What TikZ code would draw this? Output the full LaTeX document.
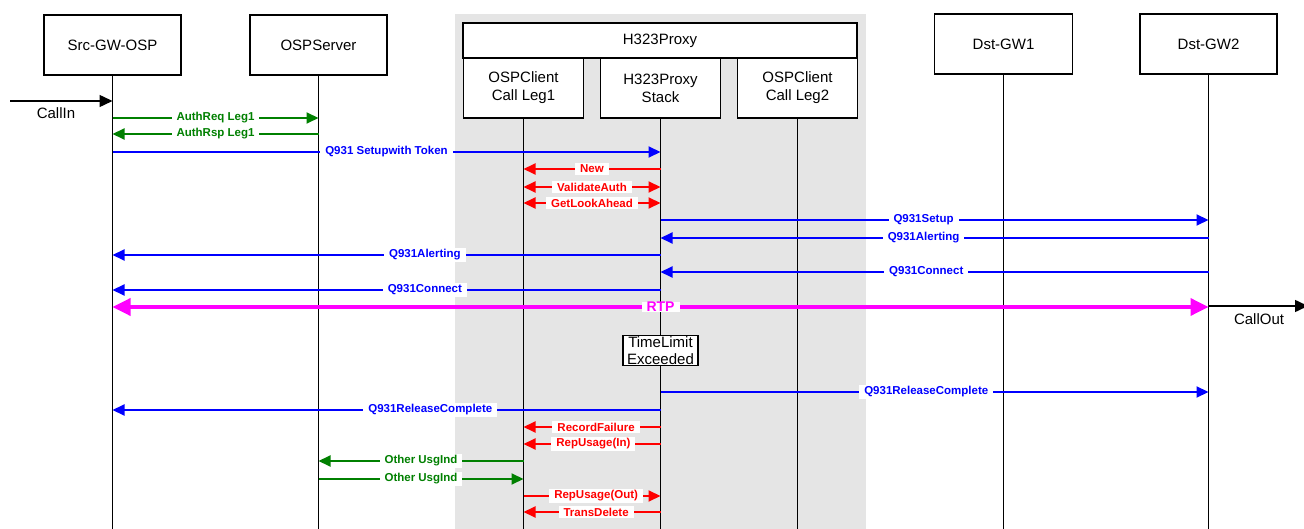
\documentclass[tikz,border=0pt]{standalone}
\usepackage{fontspec}
\setmainfont{Liberation Sans}
\usetikzlibrary{arrows.meta}
\definecolor{mblue}{RGB}{0,0,255}
\definecolor{mgreen}{RGB}{0,128,0}
\definecolor{mred}{RGB}{255,0,0}
\definecolor{mmag}{RGB}{255,0,255}
\definecolor{bggrey}{RGB}{229,229,229}
\begin{document}
\begin{tikzpicture}[x=1pt,y=-1pt,
  box/.style={draw, line width=1.5pt, fill=white, inner sep=0pt, align=center,
              font=\fontsize{15}{18}\selectfont},
  life/.style={line width=1.6pt},
  msg/.style={line width=2pt, -{Triangle[length=12pt,width=11pt]}},
  dmsg/.style={line width=2pt, {Triangle[length=12pt,width=11pt]}-{Triangle[length=12pt,width=11pt]}},
  lbl/.style={fill=white, inner xsep=5pt, inner ysep=1.5pt,
              font=\bfseries\fontsize{11.5}{12}\selectfont},
  plain/.style={font=\fontsize{15}{18}\selectfont, inner sep=1pt},
]
\useasboundingbox (0,0) rectangle (1304,529);
\clip (0,0) rectangle (1304,529);

% grey background of the proxy
\fill[bggrey] (455,14) rectangle (866,529);

% participant boxes
\node[box, minimum width=137pt, minimum height=60pt] (src) at (112.5,45) {Src-GW-OSP};
\node[box, minimum width=137pt, minimum height=60pt] (srv) at (318.5,45) {OSPServer};
\node[box, minimum width=394pt, minimum height=35pt] (prx) at (660,40.5) {H323Proxy};
\node[box, minimum width=120pt, minimum height=60pt] (leg1) at (523.5,88) {OSPClient\\Call Leg1};
\node[box, minimum width=120pt, minimum height=60pt] (stk) at (660.5,88) {H323Proxy\\Stack};
\node[box, minimum width=120pt, minimum height=60pt] (leg2) at (797.5,88) {OSPClient\\Call Leg2};
\node[box, minimum width=138pt, minimum height=60pt] (dst1) at (1003.5,44) {Dst-GW1};
\node[box, minimum width=137pt, minimum height=60pt] (dst2) at (1208.5,44) {Dst-GW2};

% lifelines
\foreach \n in {src,srv,leg1,stk,leg2,dst1,dst2}
  \draw[life] (\n.south) -- (\n.south |- 0,529);

% external call in / out
\coordinate (callin) at (10,101);
\coordinate (callout) at (1308,306);
\draw[line width=1.5pt, -{Triangle[length=13pt,width=12pt]}] (callin) -- (src |- 0,101);
\node[plain] (callinlbl) at (56,113) {CallIn};
\draw[line width=1.5pt, -{Triangle[length=13pt,width=12pt]}] (dst2 |- 0,306) -- (callout);
\node[plain] (calloutlbl) at (1259,319) {CallOut};

% messages
\draw[msg, mgreen] (src |- 0,118) -- (srv |- 0,118) node[lbl, midway] {AuthReq Leg1};
\draw[msg, mgreen] (srv |- 0,134) -- (src |- 0,134) node[lbl, midway] {AuthRsp Leg1};
\draw[msg, mblue] (src |- 0,152) -- (stk |- 0,152) node[lbl, midway] {Q931 Setupwith Token};
\draw[msg, mred] (stk |- 0,169) -- (leg1 |- 0,169) node[lbl, midway] {New};
\draw[dmsg, mred] (leg1 |- 0,187) -- (stk |- 0,187) node[lbl, midway] {ValidateAuth};
\draw[dmsg, mred] (leg1 |- 0,203) -- (stk |- 0,203) node[lbl, midway] {GetLookAhead};
\draw[msg, mblue] (stk |- 0,220) -- (dst2 |- 0,220) node[lbl, pos=0.48] {Q931Setup};
\draw[msg, mblue] (dst2 |- 0,238) -- (stk |- 0,238) node[lbl, pos=0.52] {Q931Alerting};
\draw[msg, mblue] (stk |- 0,255) -- (src |- 0,255) node[lbl, pos=0.43] {Q931Alerting};
\draw[msg, mblue] (dst2 |- 0,272) -- (stk |- 0,272) node[lbl, pos=0.515] {Q931Connect};
\draw[msg, mblue] (stk |- 0,290) -- (src |- 0,290) node[lbl, pos=0.43] {Q931Connect};
\draw[line width=3.5pt, mmag, {Triangle[length=18pt,width=17pt]}-{Triangle[length=18pt,width=17pt]}]
  (src |- 0,307) -- (dst2 |- 0,307)
  node[lbl, midway, inner ysep=0pt, font=\bfseries\fontsize{14}{16}\selectfont] {RTP};

\node[draw, line width=1.5pt, fill=white, align=center, inner xsep=4pt, inner ysep=1pt,
      font=\fontsize{15}{17}\selectfont] (tle) at (stk |- 0,350.5) {TimeLimit\\Exceeded};

\draw[msg, mblue] (stk |- 0,392) -- (dst2 |- 0,392) node[lbl, pos=0.485] {Q931ReleaseComplete};
\draw[msg, mblue] (stk |- 0,410) -- (src |- 0,410) node[lbl, pos=0.42] {Q931ReleaseComplete};
\draw[msg, mred] (stk |- 0,427) -- (leg1 |- 0,427) node[lbl, pos=0.47] {RecordFailure};
\draw[msg, mred] (stk |- 0,444) -- (leg1 |- 0,444) node[lbl, pos=0.49] {RepUsage(In)};
\draw[msg, mgreen] (leg1 |- 0,461) -- (srv |- 0,461) node[lbl, midway] {Other UsgInd};
\draw[msg, mgreen] (srv |- 0,479) -- (leg1 |- 0,479) node[lbl, midway] {Other UsgInd};
\draw[msg, mred] (leg1 |- 0,496) -- (stk |- 0,496) node[lbl, pos=0.53] {RepUsage(Out)};
\draw[msg, mred] (stk |- 0,512) -- (leg1 |- 0,512) node[lbl, pos=0.47] {TransDelete};
\end{tikzpicture}
\end{document}
